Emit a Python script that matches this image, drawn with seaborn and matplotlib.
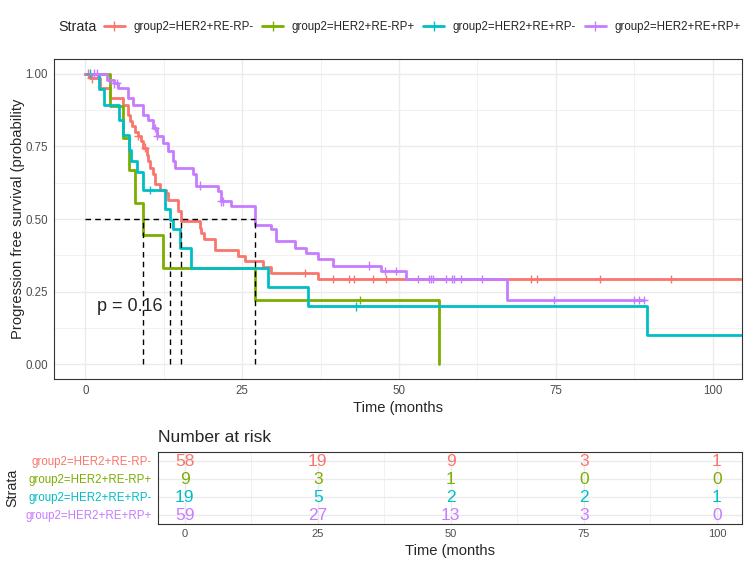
import numpy as np
import pandas as pd
import matplotlib
matplotlib.use("Agg")
from matplotlib import pyplot as plt
from matplotlib.lines import Line2D
from matplotlib.ticker import MultipleLocator
import seaborn as sns

# --- data ---
strata = ["group2=HER2+RE-RP-", "group2=HER2+RE-RP+",
          "group2=HER2+RE+RP-", "group2=HER2+RE+RP+"]
colores = ["#F8766D", "#7CAE00", "#00BFC4", "#C77CFF"]

rojo_t = [0, 0.8, 2.3, 3.9, 6.0, 6.8, 7.1, 7.4, 7.9, 8.4, 8.9, 9.2, 9.8, 10.0, 10.3,
          10.8, 11.1, 11.9, 12.9, 13.2, 14.8, 15.3, 18.2, 18.5, 18.9, 20.7, 24.3,
          25.5, 28.3, 29.6, 37.1]
rojo_s = [1.0, 0.983, 0.951, 0.916, 0.893, 0.859, 0.836, 0.819, 0.80, 0.785, 0.767,
          0.745, 0.72, 0.70, 0.676, 0.653, 0.619, 0.601, 0.59, 0.567, 0.527, 0.492,
          0.47, 0.452, 0.432, 0.395, 0.372, 0.355, 0.336, 0.315, 0.294]
rojo_fin = 104.7
rojo_cens = [0.5, 1.0, 8.4, 9.5, 35.0, 39.5, 42.0, 42.8, 45.9, 48.0, 71.0, 72.0,
             82.0, 93.4]

verde_t = [0, 3.9, 6.05, 7.0, 7.9, 9.2, 12.4, 27.0, 56.4]
verde_s = [1.0, 0.889, 0.778, 0.667, 0.556, 0.444, 0.333, 0.222, 0.0]
verde_fin = 56.4
verde_cens = [43.8]

cian_t = [0, 2.1, 2.9, 5.3, 6.0, 6.9, 7.3, 8.3, 9.2, 12.7, 13.5, 14.0, 15.1, 16.9,
          29.1, 35.5, 89.6]
cian_s = [1.0, 0.947, 0.893, 0.842, 0.789, 0.737, 0.70, 0.66, 0.60, 0.533, 0.498,
          0.464, 0.40, 0.333, 0.267, 0.20, 0.10]
cian_fin = 104.7
cian_cens = [0.75, 10.3, 43.2]

lila_t = [0, 3.4, 4.5, 5.2, 6.8, 7.6, 9.2, 10.0, 10.8, 11.4, 12.4, 13.2, 14.0, 14.3,
          17.2, 17.7, 21.2, 21.7, 23.3, 27.1, 29.6, 30.4, 33.4, 35.2, 37.1, 39.5,
          47.1, 51.1, 67.3]
lila_s = [1.0, 0.979, 0.966, 0.951, 0.916, 0.893, 0.859, 0.842, 0.813, 0.785, 0.762,
          0.733, 0.699, 0.676, 0.653, 0.615, 0.596, 0.561, 0.544, 0.481, 0.464,
          0.424, 0.401, 0.384, 0.361, 0.340, 0.321, 0.294, 0.221]
lila_fin = 89.0
lila_cens = [1.3, 1.8, 4.5, 5.0, 11.1, 11.4, 18.2, 21.7, 22.0, 45.3, 47.8, 49.6,
             53.1, 54.8, 55.1, 55.5, 57.5, 58.4, 58.7, 59.9, 63.3, 74.7, 87.5, 88.2,
             89.0]

riesgo_t = [0, 25, 50, 75, 100]
riesgo_rojo = [58, 19, 9, 3, 1]
riesgo_verde = [9, 3, 1, 0, 0]
riesgo_cian = [19, 5, 2, 2, 1]
riesgo_lila = [59, 27, 13, 3, 0]

p_valor = "p = 0.16"

# --- tables ---
curvas = [(rojo_t, rojo_s, rojo_fin, rojo_cens),
          (verde_t, verde_s, verde_fin, verde_cens),
          (cian_t, cian_s, cian_fin, cian_cens),
          (lila_t, lila_s, lila_fin, lila_cens)]
riesgos = [riesgo_rojo, riesgo_verde, riesgo_cian, riesgo_lila]

filas, cens_filas, medianas = [], [], []
for nombre, (t, s, fin, cens) in zip(strata, curvas):
    t = np.array(t + [fin])
    s = np.array(s + [s[-1]])
    filas.append(pd.DataFrame({"time": t, "surv": s, "strata": nombre}))
    idx = np.searchsorted(t, cens, side="right") - 1
    cens_filas.append(pd.DataFrame({"time": cens, "surv": s[idx], "strata": nombre}))
    bajo = np.where(s <= 0.5)[0]
    if len(bajo):
        medianas.append(t[bajo[0]])
df = pd.concat(filas, ignore_index=True)
df_cens = pd.concat(cens_filas, ignore_index=True)
paleta = dict(zip(strata, colores))

# --- style ---
sns.set_style("white")
plt.rcParams["font.family"] = ["Liberation Sans", "DejaVu Sans"]
gris_grid = "#EBEBEB"
gris_borde = "#333333"
gris_tick = "#4D4D4D"

fig = plt.figure(figsize=(7.5, 5.63), dpi=100)
W, H = 750, 563
ax = fig.add_axes([54 / W, 1 - 379 / H, 688 / W, 320 / H])
axr = fig.add_axes([158 / W, 1 - 524 / H, 584 / W, 72 / H])

# --- survival curves ---
sns.lineplot(data=df, x="time", y="surv", hue="strata", palette=paleta,
             hue_order=strata, drawstyle="steps-post", linewidth=2.0,
             estimator=None, sort=False, legend=False, ax=ax, zorder=3)
sns.scatterplot(data=df_cens, x="time", y="surv", hue="strata", palette=paleta,
                hue_order=strata, marker="+", s=38, linewidth=1.0,
                legend=False, ax=ax, zorder=4)

# median lines
dash = (0, (4, 3))
ax.hlines(0.5, 0, max(medianas), colors="black", linestyles=dash, linewidth=1.0, zorder=5)
ax.vlines(medianas, 0, 0.5, colors="black", linestyles=dash, linewidth=1.0, zorder=5)

ax.text(1.9, 0.2, p_valor, fontsize=13, ha="left", va="center", zorder=6)

ax.set_xlim(-5, 104.7)
ax.set_ylim(-0.05, 1.05)
ax.xaxis.set_major_locator(MultipleLocator(25))
ax.xaxis.set_minor_locator(MultipleLocator(12.5))
ax.yaxis.set_major_locator(MultipleLocator(0.25))
ax.yaxis.set_minor_locator(MultipleLocator(0.125))
ax.yaxis.set_major_formatter(matplotlib.ticker.FormatStrFormatter("%.2f"))
ax.grid(which="major", color=gris_grid, linewidth=1.0, zorder=0)
ax.grid(which="minor", color=gris_grid, linewidth=0.5, zorder=0)
ax.set_axisbelow(True)
ax.set_xlabel("Time (months", fontsize=10.6)
ax.set_ylabel("Progression free survival (probability", fontsize=10.6)
ax.xaxis.set_label_coords(0.5, -0.09)
ax.xaxis.label.set_va("center")
ax.yaxis.set_label_coords(-0.0523, 0.5)
ax.yaxis.label.set_va("center")

for a in (ax, axr):
    for sp in a.spines.values():
        sp.set_color(gris_borde)
        sp.set_linewidth(0.8)
    a.tick_params(which="major", length=3, width=0.8, color=gris_borde,
                  labelsize=8.3, labelcolor=gris_tick, pad=1.5)
    a.tick_params(which="minor", length=0)
axr.tick_params(axis="x", which="major", length=2.5, pad=0.8, labelsize=8)

# --- legend ---
handles = [Line2D([], [], color=c, linewidth=2.0, marker="+", markersize=7,
                  markeredgewidth=1.0) for c in colores]
fig.legend(handles, strata, loc="center left", bbox_to_anchor=(104 / W, 1 - 27 / H),
           ncol=4, frameon=False, fontsize=8.3, handlelength=1.8,
           handletextpad=0.75, columnspacing=0.75, borderpad=0, borderaxespad=0)
fig.text(58 / W, 1 - 27 / H, "Strata", fontsize=10.3, ha="left", va="center")

# --- risk table ---
ypos = [4, 3, 2, 1]
for y, nums, c in zip(ypos, riesgos, colores):
    for t, n in zip(riesgo_t, nums):
        axr.text(t, y, str(n), color=c, fontsize=12.5, ha="center", va="center")
axr.set_xlim(-5, 104.7)
axr.set_ylim(0.5, 4.5)
axr.set_yticks(ypos)
axr.set_yticklabels(strata, fontsize=8.3)
for lab, c in zip(axr.get_yticklabels(), colores):
    lab.set_color(c)
axr.xaxis.set_major_locator(MultipleLocator(25))
axr.xaxis.set_minor_locator(MultipleLocator(12.5))
axr.grid(which="major", color=gris_grid, linewidth=1.0)
axr.grid(which="minor", axis="x", color=gris_grid, linewidth=0.5)
axr.set_axisbelow(True)
axr.set_xlabel("Time (months", fontsize=10.6)
axr.xaxis.set_label_coords(0.5, -0.38)
axr.xaxis.label.set_va("center")
axr.set_ylabel("Strata", fontsize=10.3)
axr.yaxis.set_label_coords(-0.25, 0.5)
axr.yaxis.label.set_va("center")
fig.text(158 / W, 1 - 437 / H, "Number at risk", fontsize=12.5, ha="left", va="center")

fig.savefig("out.png", dpi=100)
